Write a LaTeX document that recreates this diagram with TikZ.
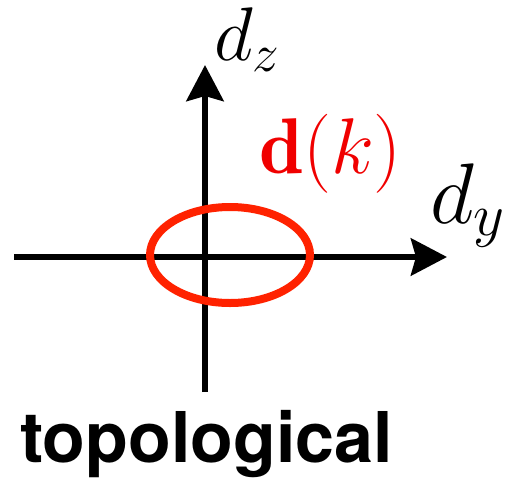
\RequirePackage{fix-cm}
\documentclass[tikz,border=0pt]{standalone}
\usepackage{fontspec}
\setsansfont{TeX Gyre Heros}
\usetikzlibrary{arrows.meta}
\definecolor{loopred}{RGB}{255,34,0}
\definecolor{labred}{RGB}{240,0,0}
\tikzset{
  axis/.style={line width=6.5pt,-{Stealth[length=36pt,width=37pt,inset=5pt]}},
  loop/.style={line width=8pt,draw=loopred},
  mathlab/.style={inner sep=0pt,anchor=base west},
}
\begin{document}
\begin{tikzpicture}[x=1pt,y=-1pt]
\useasboundingbox (0,0) rectangle (513,477);
\coordinate (hl) at (14,257);
\coordinate (hr) at (447,257);
\coordinate (vb) at (205,392);
\coordinate (vt) at (205,65);
\draw[axis] (hl) -- (hr);
\draw[axis] (vb) -- (vt);
\draw[loop] (230,255) ellipse [x radius=80, y radius=48];
\node[mathlab,font=\fontsize{76}{80}\selectfont] (dz) at (214,60) {$d_z$};
\node[mathlab,font=\fontsize{86}{90}\selectfont] (dy) at (430,223) {$d_y$};
\node[mathlab,text=labred,font=\fontsize{79}{84}\selectfont] (dk) at (259,173) {$\mathbf{d}(k)$};
\node[inner sep=0pt,anchor=base,font=\sffamily\bfseries\fontsize{70}{80}\selectfont] (topo) at (206.5,462) {topological};
\end{tikzpicture}
\end{document}
